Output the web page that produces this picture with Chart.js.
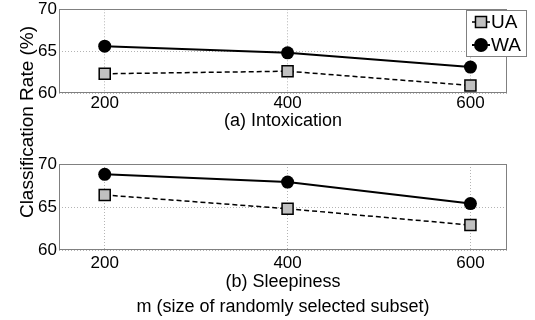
<!DOCTYPE html>
<html>
<head>
<meta charset="utf-8">
<script src="https://cdn.jsdelivr.net/npm/chart.js@4/dist/chart.umd.min.js"></script>
<style>
    body { margin: 0; background: #fff; }
    #wrap { position: relative; width: 535px; height: 320px; overflow: hidden; background: #fff; }
    canvas { position: absolute; left: 0; }
    #ylabel {
        position: absolute; width: 300px; left: -123px; top: 113px;
        font: 19px "Liberation Sans", Arial, sans-serif; line-height: 18px;
        text-align: center; color: #000; transform: rotate(-90deg);
    }
</style>
</head>
<body>
<div id="wrap">
    <canvas id="intox-chart" width="535" height="135" style="top:0"></canvas>
    <canvas id="sleep-chart" width="535" height="170" style="top:150px"></canvas>
    <div id="ylabel">Classification Rate (%)</div>
</div>
<script>
const mValues = [200, 400, 600];
const uaIntox = [62.3, 62.6, 60.9];
const waIntox = [65.6, 64.8, 63.1];
const uaSleep = [66.4, 64.8, 62.9];
const waSleep = [68.8, 67.9, 65.4];
const yTicks = [60, 65, 70];
const seriesNames = ['UA', 'WA'];

const FONT = '"Liberation Sans", Arial, sans-serif';

// matlab style box around the plot area
const boxPlugin = {
    id: 'box',
    beforeDatasetsDraw(chart) {
        const a = chart.chartArea;
        const ctx = chart.ctx;
        ctx.save();
        ctx.strokeStyle = '#808080';
        ctx.lineWidth = 1;
        ctx.strokeRect(Math.round(a.left) + 0.5, Math.round(a.top) + 0.5,
            Math.round(a.right - a.left) - 1, Math.round(a.bottom - a.top) - 1);
        ctx.restore();
    }
};

const legendPlugin = {
    id: 'boxLegend',
    afterDraw(chart) {
        const ctx = chart.ctx;
        ctx.save();
        ctx.fillStyle = '#fff';
        ctx.fillRect(466.5, 10.5, 60, 46);
        ctx.strokeStyle = '#808080';
        ctx.lineWidth = 1;
        ctx.strokeRect(466.5, 10.5, 60, 46);
        chart.data.datasets.forEach((ds, i) => {
            const y = 22 + i * 23;
            ctx.strokeStyle = '#000';
            ctx.lineWidth = ds.borderWidth;
            ctx.beginPath();
            ctx.moveTo(472, y);
            ctx.lineTo(490, y);
            ctx.stroke();
            ctx.fillStyle = ds.pointBackgroundColor;
            ctx.strokeStyle = ds.pointBorderColor;
            ctx.lineWidth = ds.pointBorderWidth;
            ctx.beginPath();
            if (ds.pointStyle === 'rect') {
                const s = ds.pointRadius * Math.SQRT1_2;
                ctx.rect(481 - s, y - s, 2 * s, 2 * s);
                ctx.fill();
                if (ds.pointBorderWidth) ctx.stroke();
            } else {
                ctx.arc(481, y, ds.pointRadius + 0.5, 0, Math.PI * 2);
                ctx.fill();
            }
            ctx.fillStyle = '#000';
            ctx.font = '19px ' + FONT;
            ctx.textBaseline = 'middle';
            ctx.fillText(ds.label, 491, y + 1);
        });
        ctx.restore();
    }
};

function makeChart(id, ua, wa, title, padTop, xHeight, titlePad, tickPad, withLegend) {
    const ctx = document.getElementById(id);
    return new Chart(ctx, {
        type: 'line',
        data: {
            datasets: [{
                label: seriesNames[0],
                data: mValues.map((m, i) => ({ x: m, y: ua[i] })),
                borderColor: '#000',
                borderWidth: 1.5,
                borderDash: [5, 3],
                pointStyle: 'rect',
                pointRadius: 7.8,
                pointBackgroundColor: '#c0c0c0',
                pointBorderColor: '#000',
                pointBorderWidth: 1.5,
                tension: 0
            }, {
                label: seriesNames[1],
                data: mValues.map((m, i) => ({ x: m, y: wa[i] })),
                borderColor: '#000',
                borderWidth: 2,
                pointStyle: 'circle',
                pointRadius: 6.5,
                pointBackgroundColor: '#000',
                pointBorderColor: '#000',
                pointBorderWidth: 0,
                tension: 0
            }]
        },
        options: {
            responsive: false,
            animation: false,
            layout: { padding: { left: 0, right: 28, top: padTop, bottom: 0 } },
            scales: {
                x: {
                    type: 'linear',
                    min: 150,
                    max: 640,
                    afterBuildTicks: (scale) => { scale.ticks = mValues.map(v => ({ value: v })); },
                    afterFit: (scale) => {
                        scale.height = xHeight;
                        scale.paddingLeft = 0;
                        scale.paddingRight = 0;
                    },
                    grid: { color: '#b4b4b4', lineWidth: 1, drawTicks: false },
                    border: { display: false, dash: [1, 2] },
                    ticks: {
                        color: '#000',
                        padding: tickPad,
                        font: { family: FONT, size: 17 },
                        callback: (v) => String(v)
                    },
                    title: {
                        display: true,
                        text: title,
                        color: '#000',
                        font: { family: FONT, size: 18, lineHeight: 1.4 },
                        padding: { top: 0, bottom: titlePad }
                    }
                },
                y: {
                    min: yTicks[0],
                    max: yTicks[yTicks.length - 1],
                    afterBuildTicks: (scale) => { scale.ticks = yTicks.map(v => ({ value: v })); },
                    afterFit: (scale) => {
                        scale.width = 59;
                        scale.paddingTop = 0;
                        scale.paddingBottom = 0;
                    },
                    grid: { color: '#b4b4b4', lineWidth: 1, drawTicks: false },
                    border: { display: false, dash: [1, 2] },
                    ticks: {
                        color: '#000',
                        padding: 2,
                        font: { family: FONT, size: 17 }
                    }
                }
            },
            plugins: {
                legend: { display: false },
                tooltip: { enabled: false }
            }
        },
        plugins: withLegend ? [boxPlugin, legendPlugin] : [boxPlugin]
    });
}

document.addEventListener('DOMContentLoaded', () => {
    makeChart('intox-chart', uaIntox, waIntox, '(a) Intoxication', 7, 42, 1.4, 0, true);
    makeChart('sleep-chart', uaSleep, waSleep,
        ['(b) Sleepiness', 'm (size of randomly selected subset)'], 14, 70, 0.5, 3, false);
});
</script>
</body>
</html>
